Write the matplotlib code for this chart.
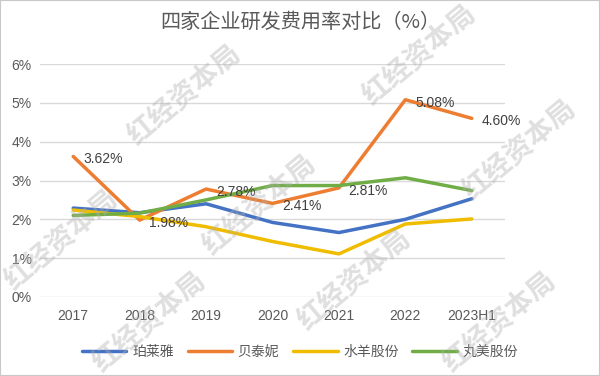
import matplotlib.pyplot as plt
import numpy as np

plt.rcParams['font.family'] = ['Liberation Sans', 'Noto Sans CJK SC', 'DejaVu Sans']

years = ['2017', '2018', '2019', '2020', '2021', '2022', '2023H1']
proya = [2.29, 2.17, 2.40, 1.92, 1.66, 2.00, 2.53]
botanee = [3.62, 1.98, 2.78, 2.41, 2.81, 5.08, 4.60]
yunnan = [2.24, 2.07, 1.81, 1.43, 1.11, 1.88, 2.01]
marubi = [2.10, 2.16, 2.50, 2.87, 2.87, 3.07, 2.74]
names = ['珀莱雅', '贝泰妮', '水羊股份', '丸美股份']
colors = ['#4472C4', '#ED7D31', '#F0BC00', '#70AD47']

fig = plt.figure(figsize=(6, 3.76), dpi=100)
ax = fig.add_axes([40 / 600, 1 - 297 / 376, 465 / 600, 233 / 376])

x = np.arange(len(years))
for vals, name, c in zip([proya, botanee, yunnan, marubi], names, colors):
    ax.plot(x, vals, color=c, lw=2.5, label=name, solid_capstyle='round')

# 数据标签只标了贝泰妮
for i in range(len(years)):
    ax.annotate(f'{botanee[i]:.2f}%', (x[i], botanee[i]), xytext=(7, -2),
                textcoords='offset points', ha='left', va='center',
                fontsize=10, color='#404040')

ax.set_xlim(-0.5, 6.5)
ax.set_ylim(0, 6)
ax.set_yticks(range(7))
ax.set_yticklabels([f'{v}%' for v in range(7)])
ax.set_xticks(x)
ax.set_xticklabels(years)
ax.grid(axis='y', color='#D9D9D9', lw=1)
ax.set_axisbelow(True)
for s in ax.spines.values():
    s.set_visible(False)
ax.tick_params(length=0, labelsize=10, colors='#595959')
ax.tick_params(axis='x', pad=9)
ax.tick_params(axis='y', pad=6)

fig.text(0.5, 1 - 22 / 376, '四家企业研发费用率对比（%）', ha='center', va='center',
         fontsize=14.5, color='#595959', family=['Noto Sans CJK SC'])

leg = fig.legend(loc='center', bbox_to_anchor=(0.5, 1 - 352 / 376), ncol=4,
                 frameon=False, handlelength=3.2, columnspacing=1.0,
                 handletextpad=0.4, prop={'family': 'Noto Sans CJK SC', 'size': 10})
for t in leg.get_texts():
    t.set_color('#595959')

# 水印
wm = [(62, 240), (185, 95), (260, 205), (355, 280), (420, 55), (520, 150),
      (150, 322), (500, 322)]
for px, py in wm:
    fig.text(px / 600, 1 - py / 376, '红经资本局', rotation=40, ha='center', va='center',
             fontsize=20, color='#B0B0B0', alpha=0.4, fontweight='bold',
             family=['Noto Sans CJK SC'], zorder=10)

fig.patches.append(plt.Rectangle((0, 0), 1, 1, transform=fig.transFigure,
                                 fill=False, ec='#C8C8C8', lw=1.5))

fig.savefig('out.png', dpi=100)
